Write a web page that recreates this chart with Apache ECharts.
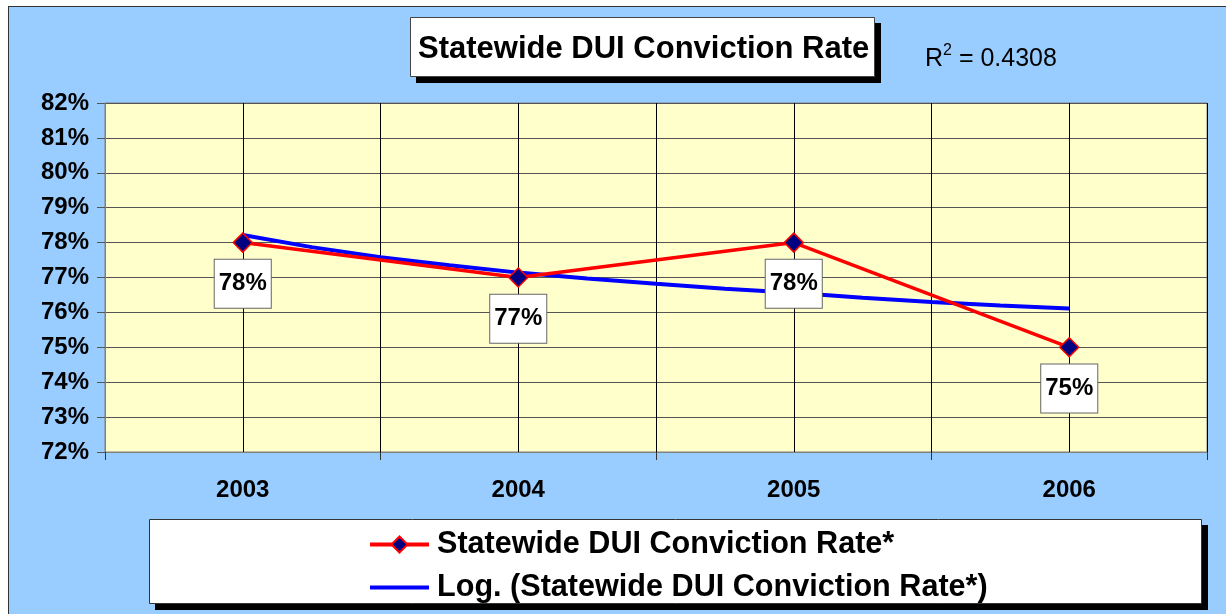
<!DOCTYPE html>
<html>
<head>
<meta charset="utf-8">
<script src="https://cdn.jsdelivr.net/npm/echarts@6/dist/echarts.min.js"></script>
<style>
  html, body { margin: 0; padding: 0; background: #ffffff; }
  #frame { position: absolute; left: 8px; top: 6px; width: 1218px; height: 608px;
           border-top: 1px solid #333; border-left: 1px solid #333; background: #99CCFF; overflow: hidden; }
  #chart { position: absolute; left: -9px; top: -7px; width: 1226px; height: 614px; }
</style>
</head>
<body>
<div id="frame"><div id="chart"></div></div>
<script>
// ---- data ----
const years = ['2003', '2004', '2005', '2006'];
const convictionRate = [78, 77, 78, 75];
// logarithmic trend line
const trendX = [1, 1.25, 1.5, 1.75, 2, 2.25, 2.5, 2.75, 3, 3.25, 3.5, 3.75, 4];
const trendY = [78.22, 77.87, 77.58, 77.35, 77.14, 76.97, 76.82, 76.68, 76.56, 76.42, 76.30, 76.20, 76.11];
const yTicks = { min: 72, max: 82, step: 1 };
const titleText = 'Statewide DUI Conviction Rate';
const rSquared = '0.4308';
const seriesNames = ['Statewide DUI Conviction Rate*', 'Log. (Statewide DUI Conviction Rate*)'];

const FONT = 'Arial, "Liberation Sans", sans-serif';
const chart = echarts.init(document.getElementById('chart'), null, { renderer: 'canvas' });

const option = {
  backgroundColor: 'transparent',
  animation: false,
  textStyle: { fontFamily: FONT },
  title: [
    {
      text: titleText,
      left: 418, top: 34,
      padding: 0,
      z: 10,
      textStyle: { fontFamily: FONT, fontSize: 31, fontWeight: 'bold', color: '#000', lineHeight: 30 }
    },
    {
      text: '{a|R}{s|2}{a| = ' + rSquared + '}',
      left: 925, top: 42,
      padding: 0,
      textStyle: {
        fontWeight: 'normal',
        rich: {
          a: { fontFamily: FONT, fontSize: 25, fontWeight: 'normal', color: '#000', lineHeight: 30, verticalAlign: 'bottom' },
          s: { fontFamily: FONT, fontSize: 16, fontWeight: 'normal', color: '#000', lineHeight: 30, verticalAlign: 'bottom', padding: [0, 0, 13, 0] }
        }
      }
    }
  ],
  graphic: [
    // title box + shadow
    { type: 'rect', z: 0, shape: { x: 416, y: 23, width: 465, height: 60 }, style: { fill: '#000' } },
    { type: 'rect', z: 0, shape: { x: 410.5, y: 17.5, width: 464, height: 59 }, style: { fill: '#fff', stroke: '#444', lineWidth: 1 } },
    // legend box + shadow
    { type: 'rect', z: 0, shape: { x: 155, y: 525, width: 1053, height: 85 }, style: { fill: '#000' } },
    { type: 'rect', z: 0, shape: { x: 149.5, y: 519.5, width: 1052, height: 84 }, style: { fill: '#fff', stroke: '#333', lineWidth: 1 } }
  ],
  legend: {
    orient: 'vertical',
    left: 363, top: 524,
    itemWidth: 59, itemHeight: 20, itemGap: 12,
    z: 10,
    data: [
      { name: seriesNames[0], lineStyle: { width: 4 } },
      { name: seriesNames[1], itemStyle: { opacity: 0 }, lineStyle: { width: 4 } }
    ],
    textStyle: { fontFamily: FONT, fontSize: 30.6, fontWeight: 'bold', color: '#000', padding: [0, 0, 0, 3] }
  },
  grid: {
    left: 105, right: 19, top: 103, bottom: 162,
    show: true, backgroundColor: '#FFFFCC', borderColor: '#808080', borderWidth: 1,
    containLabel: false
  },
  xAxis: [
    {
      type: 'category', data: years, boundaryGap: true,
      axisLine: { show: true, lineStyle: { color: '#808080', width: 1 } },
      axisTick: { show: true, length: 8, lineStyle: { color: '#333' } },
      splitLine: { show: false },
      axisLabel: { fontFamily: FONT, fontSize: 24, fontWeight: 'bold', color: '#000', margin: 26 }
    },
    {
      type: 'value', min: 0.5, max: 4.5, interval: 0.5, position: 'bottom',
      axisLine: { show: false }, axisTick: { show: false }, axisLabel: { show: false },
      splitLine: { show: true, lineStyle: { color: '#000', width: 1 } }
    }
  ],
  yAxis: {
    type: 'value', min: yTicks.min, max: yTicks.max, interval: yTicks.step,
    axisLine: { show: true, lineStyle: { color: '#808080' } },
    axisTick: { show: true, length: 8, lineStyle: { color: '#555' } },
    splitLine: { show: true, lineStyle: { color: '#555', width: 1 } },
    axisLabel: { formatter: '{value}%', fontFamily: FONT, fontSize: 24, fontWeight: 'bold', color: '#000', margin: 16 }
  },
  series: [
    {
      name: seriesNames[1], type: 'line', xAxisIndex: 1,
      data: trendX.map((x, i) => [x, trendY[i]]),
      symbol: 'none', z: 3,
      lineStyle: { color: '#0000FF', width: 4 },
      itemStyle: { color: '#0000FF' }
    },
    {
      name: seriesNames[0], type: 'line', xAxisIndex: 0,
      data: convictionRate,
      symbol: 'diamond', symbolSize: 19, z: 4,
      lineStyle: { color: '#FF0000', width: 3.5 },
      itemStyle: { color: '#000080', borderColor: '#FF0000', borderWidth: 1.5 },
      label: {
        show: true, position: 'bottom', distance: 7,
        formatter: '{c}%',
        fontFamily: FONT, fontSize: 24, fontWeight: 'bold', color: '#000',
        backgroundColor: '#fff', borderColor: '#666', borderWidth: 1,
        padding: [10, 4, 10, 4], lineHeight: 28
      }
    }
  ]
};
chart.setOption(option);
</script>
</body>
</html>
